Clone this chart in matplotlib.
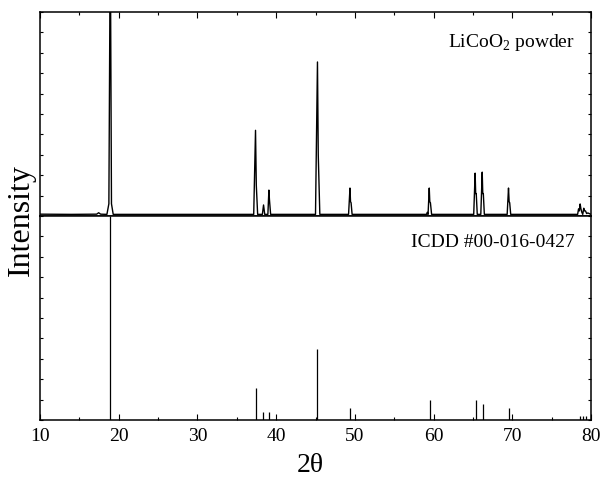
import matplotlib
matplotlib.use('Agg')
import matplotlib.pyplot as plt
from matplotlib.ticker import MultipleLocator

plt.rcParams['font.family'] = ['Liberation Serif', 'DejaVu Serif']
plt.rcParams['mathtext.fontset'] = 'custom'
plt.rcParams['mathtext.rm'] = 'Liberation Serif'

# measured pattern of the LiCoO2 powder (2theta, relative intensity)
powder_2theta = [10.0, 14.0, 17.2, 17.45, 17.7, 18.5, 18.75, 18.93, 19.08, 19.3,
                 37.15, 37.38, 37.48, 37.65,
                 38.25, 38.4, 38.55,
                 38.95, 39.08, 39.15, 39.3,
                 45.0, 45.25, 45.35, 45.55,
                 49.2, 49.38, 49.45, 49.52, 49.65,
                 59.1, 59.2, 59.3, 59.45, 59.52, 59.6, 59.75,
                 65.1, 65.28, 65.35, 65.42, 65.55,
                 66.0, 66.18, 66.25, 66.32, 66.45,
                 69.35, 69.52, 69.6, 69.67, 69.8,
                 78.3, 78.42, 78.52, 78.62, 78.72, 78.82, 78.95, 79.08, 79.18, 79.3, 79.45, 79.6, 80.0]
powder_int = [0.9, 0.8, 0.9, 1.6, 0.9, 0.8, 6.0, 140.0, 6.0, 0.8,
              0.8, 42.0, 15.0, 0.8,
              0.8, 5.4, 0.8,
              0.8, 12.7, 8.0, 0.8,
              0.8, 75.5, 30.0, 0.8,
              0.8, 13.7, 7.0, 6.5, 0.8,
              0.8, 1.8, 0.8, 13.7, 7.0, 6.5, 0.8,
              0.8, 21.0, 11.0, 11.0, 0.8,
              0.8, 21.5, 11.0, 11.0, 0.8,
              0.8, 13.7, 7.0, 6.5, 0.8,
              0.8, 3.5, 2.5, 5.9, 3.5, 2.0, 0.8, 3.8, 2.5, 2.5, 1.2, 1.5, 0.8]

# ICDD #00-016-0427 reference lines
icdd_2theta = [18.93, 37.4, 38.3, 39.06, 45.22, 49.4, 59.6, 65.4, 66.3, 69.6, 78.6, 79.0, 79.35]
icdd_int = [100.0, 15.8, 3.9, 3.9, 34.8, 5.9, 9.8, 9.8, 7.8, 5.9, 2.0, 2.0, 2.0]

fig = plt.figure(figsize=(6.01, 4.79), dpi=100)
left, right = 40 / 601, 591 / 601
mid = 1 - 216 / 479
ax1 = fig.add_axes([left, mid, right - left, (1 - 12 / 479) - mid])
ax2 = fig.add_axes([left, 1 - 420 / 479, right - left, mid - (1 - 420 / 479)], sharex=ax1)

ax1.plot(powder_2theta, powder_int, color='black', lw=1.0)
ax2.vlines(icdd_2theta, 0, icdd_int, color='black', lw=0.9)

for ax in (ax1, ax2):
    ax.set_xlim(10, 80)
    ax.set_ylim(0, 100)
    ax.xaxis.set_major_locator(MultipleLocator(10))
    ax.xaxis.set_minor_locator(MultipleLocator(5))
    ax.yaxis.set_major_locator(MultipleLocator(10))
    ax.tick_params(which='both', direction='in', right=True, width=0.8)
    ax.tick_params(axis='x', which='major', length=4)
    ax.tick_params(axis='x', which='minor', length=2.5)
    ax.tick_params(axis='y', length=2.5)
    ax.set_yticklabels([])
    for s in ax.spines.values():
        s.set_linewidth(1.1)

# no ticks along the shared border between the two panels
ax1.tick_params(axis='x', which='both', top=True, bottom=False, labelbottom=False)
ax2.tick_params(axis='x', which='both', top=False, bottom=True)
ax2.tick_params(axis='x', labelsize=14, pad=6)

ax1.text(0.971, 0.85, r'LiCoO$_2$ powder', transform=ax1.transAxes,
         ha='right', va='center', fontsize=14)
ax2.text(0.971, 0.87, 'ICDD #00-016-0427', transform=ax2.transAxes,
         ha='right', va='center', fontsize=14)

fig.text(0.036, 1 - 220 / 479, 'Intensity', rotation=90, ha='center', va='center', fontsize=23)
fig.text(0.516, 1 - 466 / 479, '2θ', ha='center', va='center', fontsize=20)

plt.savefig('out.png', dpi=100)
